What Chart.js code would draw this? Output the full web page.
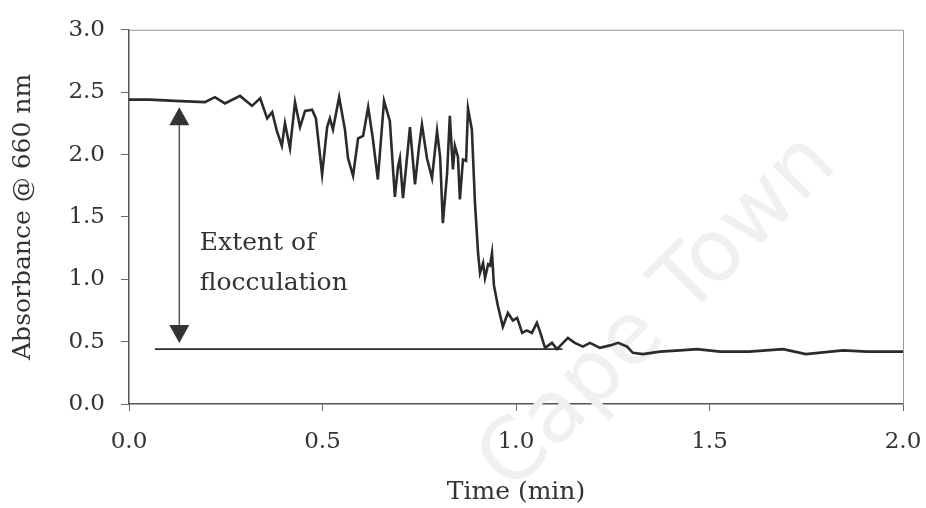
<!DOCTYPE html>
<html>
<head>
<meta charset="utf-8">
<script src="https://cdn.jsdelivr.net/npm/chart.js@4/dist/chart.umd.min.js"></script>
<style>
  html, body { margin: 0; padding: 0; background: #fff; }
  #wrap { width: 926px; height: 508px; }
</style>
</head>
<body>
<div id="wrap"><canvas id="absChart"></canvas></div>
<script>
// time axis (min) and absorbance
const timeMin = [
  0.000, 0.054, 0.119, 0.196, 0.222, 0.248, 0.287, 0.318, 0.339, 0.357,
  0.370, 0.382, 0.395, 0.403, 0.416, 0.429, 0.442, 0.455, 0.473, 0.483,
  0.499, 0.512, 0.519, 0.527, 0.543, 0.558, 0.566, 0.579, 0.592, 0.605,
  0.618, 0.630, 0.643, 0.659, 0.674, 0.687, 0.695, 0.700, 0.708, 0.716,
  0.726, 0.739, 0.749, 0.757, 0.770, 0.783, 0.796, 0.804, 0.811, 0.822,
  0.829, 0.837, 0.842, 0.850, 0.855, 0.863, 0.871, 0.876, 0.886, 0.894,
  0.902, 0.907, 0.915, 0.920, 0.928, 0.933, 0.938, 0.943, 0.953, 0.966,
  0.979, 0.992, 1.003, 1.016, 1.028, 1.041, 1.054, 1.062, 1.075, 1.093,
  1.106, 1.134, 1.152, 1.173, 1.191, 1.217, 1.243, 1.264, 1.287, 1.302,
  1.328, 1.372, 1.424, 1.468, 1.527, 1.602, 1.690, 1.749, 1.845, 1.907,
  2.000
];
const absorbance = [
  2.44, 2.44, 2.43, 2.42, 2.46, 2.41, 2.47, 2.39, 2.45, 2.29,
  2.34, 2.19, 2.07, 2.25, 2.05, 2.42, 2.22, 2.35, 2.36, 2.29,
  1.84, 2.22, 2.29, 2.20, 2.46, 2.20, 1.97, 1.83, 2.13, 2.15,
  2.38, 2.13, 1.80, 2.43, 2.27, 1.66, 1.90, 1.97, 1.65, 1.90,
  2.22, 1.76, 2.05, 2.24, 1.97, 1.81, 2.19, 1.98, 1.45, 1.85,
  2.31, 1.88, 2.07, 1.98, 1.64, 1.96, 1.95, 2.37, 2.20, 1.61,
  1.21, 1.05, 1.13, 1.01, 1.12, 1.11, 1.21, 0.95, 0.79, 0.62,
  0.73, 0.67, 0.69, 0.57, 0.59, 0.57, 0.65, 0.58, 0.45, 0.49,
  0.44, 0.53, 0.49, 0.46, 0.49, 0.45, 0.47, 0.49, 0.46, 0.41,
  0.40, 0.42, 0.43, 0.44, 0.42, 0.42, 0.44, 0.40, 0.43, 0.42,
  0.42
];

// final level reference line
const baselineTime = [0.067, 1.12];
const baselineAbs = [0.44, 0.44];

// "extent of flocculation" arrow and label
const arrowTime = 0.13;
const arrowAbs = [2.38, 0.49];
const noteLines = ['Extent of', 'flocculation'];
const noteTime = 0.183;
const noteAbs = [1.285, 0.965];

const xTicks = [0, 0.5, 1.0, 1.5, 2.0];
const yTicks = [0, 0.5, 1.0, 1.5, 2.0, 2.5, 3.0];

const serif = 'DejaVu Serif';
const ink = '#2b2b2b';

const toPoints = (xs, ys) => xs.map((x, i) => ({ x: x, y: ys[i] }));

// watermark + frame + arrow/label drawn from the scales
const extras = {
  id: 'extras',
  beforeDatasetsDraw(chart) {
    const { ctx, chartArea: a } = chart;
    ctx.save();
    ctx.translate(a.left + (a.right - a.left) * 0.685, a.top + (a.bottom - a.top) * 0.76);
    ctx.rotate(-Math.PI / 4);
    ctx.font = '86px "DejaVu Sans"';
    ctx.fillStyle = '#f0f0f0';
    ctx.textAlign = 'center';
    ctx.textBaseline = 'middle';
    ctx.fillText('Cape Town', 0, 0);
    ctx.restore();

    ctx.save();
    ctx.strokeStyle = '#9a9a9a';
    ctx.lineWidth = 1;
    ctx.beginPath();
    ctx.moveTo(a.left, a.top + 0.5);
    ctx.lineTo(a.right + 0.5, a.top + 0.5);
    ctx.lineTo(a.right + 0.5, a.bottom);
    ctx.stroke();
    ctx.restore();
  },
  afterDatasetsDraw(chart) {
    const { ctx } = chart;
    const xs = chart.scales.x, ys = chart.scales.y;
    const ax = xs.getPixelForValue(arrowTime);
    const yTop = ys.getPixelForValue(arrowAbs[0]);
    const yBot = ys.getPixelForValue(arrowAbs[1]);
    const hw = 10, hh = 18;
    ctx.save();
    ctx.strokeStyle = '#555';
    ctx.fillStyle = '#333';
    ctx.lineWidth = 1.5;
    ctx.beginPath();
    ctx.moveTo(ax, yTop + hh);
    ctx.lineTo(ax, yBot - hh);
    ctx.stroke();
    ctx.beginPath();
    ctx.moveTo(ax, yTop);
    ctx.lineTo(ax - hw, yTop + hh);
    ctx.lineTo(ax + hw, yTop + hh);
    ctx.closePath();
    ctx.fill();
    ctx.beginPath();
    ctx.moveTo(ax, yBot);
    ctx.lineTo(ax - hw, yBot - hh);
    ctx.lineTo(ax + hw, yBot - hh);
    ctx.closePath();
    ctx.fill();

    ctx.font = '25px "' + serif + '"';
    ctx.fillStyle = '#333';
    ctx.textAlign = 'left';
    ctx.textBaseline = 'middle';
    noteLines.forEach((t, i) => {
      ctx.fillText(t, xs.getPixelForValue(noteTime), ys.getPixelForValue(noteAbs[i]));
    });
    ctx.restore();
  }
};

const ctx = document.getElementById('absChart').getContext('2d');
new Chart(ctx, {
  type: 'scatter',
  data: {
    datasets: [{
      label: 'Absorbance',
      data: toPoints(timeMin, absorbance),
      showLine: true,
      borderColor: ink,
      borderWidth: 2.6,
      pointRadius: 0,
      tension: 0
    }, {
      label: 'Baseline',
      data: toPoints(baselineTime, baselineAbs),
      showLine: true,
      borderColor: ink,
      borderWidth: 1.6,
      pointRadius: 0
    }]
  },
  options: {
    responsive: true,
    maintainAspectRatio: false,
    animation: false,
    layout: { padding: { top: 27, right: 23, left: 0, bottom: 0 } },
    plugins: {
      legend: { display: false },
      tooltip: { enabled: false }
    },
    scales: {
      x: {
        type: 'linear',
        min: 0,
        max: 2,
        afterBuildTicks: s => { s.ticks = xTicks.map(v => ({ value: v })); },
        afterFit: s => { s.height = 104; s.paddingLeft = 0; s.paddingRight = 0; },
        ticks: {
          callback: v => v.toFixed(1),
          font: { family: serif, size: 23 },
          color: '#333',
          padding: 17,
          maxRotation: 0
        },
        grid: { drawOnChartArea: false, tickLength: 7, color: '#666' },
        border: { color: '#555', width: 1.5 },
        title: {
          display: true,
          text: 'Time (min)',
          font: { family: serif, size: 25 },
          color: '#333',
          padding: { top: 0, bottom: 1 }
        }
      },
      y: {
        min: 0,
        max: 3,
        afterBuildTicks: s => { s.ticks = yTicks.map(v => ({ value: v })); },
        afterFit: s => { s.width = 129; },
        ticks: {
          callback: v => v.toFixed(1),
          font: { family: serif, size: 23 },
          color: '#333',
          padding: 16
        },
        grid: { drawOnChartArea: false, tickLength: 8, color: '#666' },
        border: { color: '#555', width: 1.5 },
        title: {
          display: true,
          text: 'Absorbance @ 660 nm',
          font: { family: serif, size: 25 },
          color: '#333',
          padding: { top: 8, bottom: 0 }
        }
      }
    }
  },
  plugins: [extras]
});
</script>
</body>
</html>
